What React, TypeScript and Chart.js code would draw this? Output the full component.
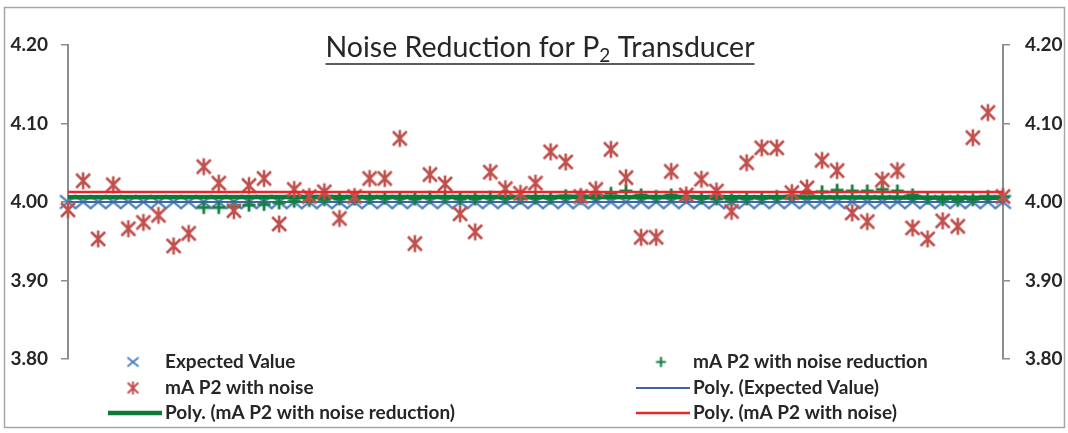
import React, { useEffect, useRef } from 'react';
import { Chart, registerables } from 'chart.js';

Chart.register(...registerables);

const samples = [1, 2, 3, 4, 5, 6, 7, 8, 9, 10, 11, 12, 13, 14, 15, 16, 17, 18, 19, 20, 21, 22, 23, 24, 25, 26, 27, 28, 29, 30, 31, 32, 33, 34, 35, 36, 37, 38, 39, 40, 41, 42, 43, 44, 45, 46, 47, 48, 49, 50, 51, 52, 53, 54, 55, 56, 57, 58, 59, 60, 61, 62, 63];

const expectedValue = [4.0, 4.0, 4.0, 4.0, 4.0, 4.0, 4.0, 4.0, 4.0, 4.0, 4.0, 4.0, 4.0, 4.0, 4.0, 4.0, 4.0, 4.0, 4.0, 4.0, 4.0, 4.0, 4.0, 4.0, 4.0, 4.0, 4.0, 4.0, 4.0, 4.0, 4.0, 4.0, 4.0, 4.0, 4.0, 4.0, 4.0, 4.0, 4.0, 4.0, 4.0, 4.0, 4.0, 4.0, 4.0, 4.0, 4.0, 4.0, 4.0, 4.0, 4.0, 4.0, 4.0, 4.0, 4.0, 4.0, 4.0, 4.0, 4.0, 4.0, 4.0, 4.0, 4.0];

const withNoise = [3.990, 4.027, 3.953, 4.022, 3.966, 3.974, 3.983, 3.944, 3.960, 4.045,
  4.024, 3.989, 4.021, 4.030, 3.972, 4.016, 4.007, 4.013, 3.979, 4.007,
  4.030, 4.030, 4.081, 3.947, 4.035, 4.023, 3.985, 3.962, 4.038, 4.017,
  4.011, 4.024, 4.064, 4.051, 4.007, 4.016, 4.067, 4.031, 3.955, 3.955,
  4.039, 4.009, 4.029, 4.014, 3.988, 4.050, 4.069, 4.069, 4.012, 4.018,
  4.053, 4.040, 3.986, 3.975, 4.028, 4.040, 3.967, 3.953, 3.976, 3.969,
  4.082, 4.114, 4.007];

const withNoiseReduction = [null, null, null, null, null, null, null, null, null, 3.993,
  3.993, 3.994, 3.996, 3.997, 3.999, 4.001, 4.002, 4.003, 4.004, 4.004,
  4.005, 4.005, 4.005, 4.004, 4.006, 4.006, 4.004, 4.004, 4.006, 4.005,
  4.005, 4.005, 4.005, 4.008, 4.008, 4.009, 4.011, 4.014, 4.009, 4.007,
  4.009, 4.007, 4.005, 4.004, 4.003, 4.004, 4.005, 4.007, 4.008, 4.011,
  4.013, 4.015, 4.014, 4.014, 4.016, 4.014, 4.009, 4.005, 4.003, 4.002,
  4.003, 4.007, 4.007];

const trendSamples = [1, 32, 63];
const trendExpected = [4.0, 4.0, 4.0];
const trendReduction = [4.0062, 4.0065, 4.0055];
const trendNoise = [4.0127, 4.0127, 4.0127];

const yTicks = [3.8, 3.9, 4.0, 4.1, 4.2];

const seriesNames = [
  'Expected Value',
  'mA P2 with noise reduction',
  'mA P2 with noise',
  'Poly. (Expected Value)',
  'Poly. (mA P2 with noise reduction)',
  'Poly. (mA P2 with noise)',
];

const BLUE = '#4A7EBB';
const RED = '#C0504D';
const GREEN = '#12803F';
const BLUE_LINE = '#3F66A3';
const RED_LINE = '#E8262B';
const GREEN_LINE = '#0B7A36';
const AXIS = '#8C8C8C';
const TEXT = '#262626';
const FAMILY = 'Lato, "Liberation Sans", sans-serif';

function makeMarker(kind: string, half: number, color: string, lw: number) {
  const size = Math.ceil(half * 2 + lw + 2);
  const c = document.createElement('canvas');
  c.width = size;
  c.height = size;
  const ctx = c.getContext('2d')!;
  const m = size / 2;
  ctx.strokeStyle = color;
  ctx.lineWidth = lw;
  ctx.lineCap = 'butt';
  ctx.beginPath();
  if (kind === 'x') {
    const hw = half, hh = half * 0.82;
    ctx.moveTo(m - hw, m - hh); ctx.lineTo(m + hw, m + hh);
    ctx.moveTo(m - hw, m + hh); ctx.lineTo(m + hw, m - hh);
  } else if (kind === 'star') {
    const d = half * 0.82;
    ctx.moveTo(m - d, m - d); ctx.lineTo(m + d, m + d);
    ctx.moveTo(m - d, m + d); ctx.lineTo(m + d, m - d);
    ctx.moveTo(m, m - half); ctx.lineTo(m, m + half);
  } else {
    ctx.moveTo(m - half, m); ctx.lineTo(m + half, m);
    ctx.moveTo(m, m - half); ctx.lineTo(m, m + half);
  }
  ctx.stroke();
  return c;
}

function pts(xs: number[], ys: (number | null)[]) {
  return xs.map((x, i) => ({ x, y: ys[i] }));
}

export default function App() {
  const ref = useRef<HTMLCanvasElement | null>(null);

  useEffect(() => {
    document.body.style.margin = '0';
    const canvas = ref.current;
    if (!canvas) return;

    const xMark = makeMarker('x', 8, BLUE, 2.2);
    const starMark = makeMarker('star', 8.5, RED, 2.6);
    const plusMark = makeMarker('plus', 6.5, GREEN, 2.8);
    const xMarkS = makeMarker('x', 5.5, BLUE, 1.8);
    const starMarkS = makeMarker('star', 6.5, RED, 2);
    const plusMarkS = makeMarker('plus', 5, GREEN, 2.2);

    const bgPlugin = {
      id: 'bg',
      beforeDraw(chart: any) {
        const { ctx } = chart;
        ctx.save();
        ctx.fillStyle = '#ffffff';
        ctx.fillRect(0, 0, chart.width, chart.height);
        ctx.strokeStyle = '#A6A6A6';
        ctx.lineWidth = 1.5;
        ctx.strokeRect(4.5, 7.5, 1060, 420);
        ctx.restore();
      },
    };

    const titlePlugin = {
      id: 'titleSub',
      afterDraw(chart: any) {
        const { ctx } = chart;
        ctx.save();
        const t1 = 'Noise Reduction for P';
        const sub = '2';
        const t2 = ' Transducer';
        const fs = 28.5;
        const subFs = 19;
        ctx.font = `${fs}px ${FAMILY}`;
        const w1 = ctx.measureText(t1).width;
        const w2 = ctx.measureText(t2).width;
        ctx.font = `${subFs}px ${FAMILY}`;
        const ws = ctx.measureText(sub).width;
        const total = w1 + ws + w2;
        const x0 = 540 - total / 2;
        const base = 57;
        ctx.fillStyle = TEXT;
        ctx.textBaseline = 'alphabetic';
        ctx.textAlign = 'left';
        ctx.font = `${fs}px ${FAMILY}`;
        ctx.fillText(t1, x0, base);
        ctx.fillText(t2, x0 + w1 + ws, base);
        ctx.font = `${subFs}px ${FAMILY}`;
        ctx.fillText(sub, x0 + w1, base + 5);
        ctx.strokeStyle = TEXT;
        ctx.lineWidth = 1.5;
        ctx.beginPath();
        ctx.moveTo(x0, base + 7);
        ctx.lineTo(x0 + total, base + 7);
        ctx.stroke();
        ctx.restore();
      },
    };

    const legendPlugin = {
      id: 'customLegend',
      afterDraw(chart: any) {
        const { ctx } = chart;
        ctx.save();
        ctx.font = `bold 19px ${FAMILY}`;
        ctx.fillStyle = TEXT;
        ctx.textBaseline = 'middle';
        ctx.textAlign = 'left';
        const rows = [362, 388, 413];
        const col1Text = 165, col2Text = 693;
        const drawImg = (img: HTMLCanvasElement, cx: number, cy: number) => {
          ctx.drawImage(img, cx - img.width / 2, cy - img.height / 2);
        };
        const drawLine = (x1: number, x2: number, y: number, color: string, w: number) => {
          ctx.strokeStyle = color;
          ctx.lineWidth = w;
          ctx.beginPath();
          ctx.moveTo(x1, y);
          ctx.lineTo(x2, y);
          ctx.stroke();
        };
        drawImg(xMarkS, 133, rows[0]);
        ctx.fillText(seriesNames[0], col1Text, rows[0]);
        drawImg(plusMarkS, 661, rows[0]);
        ctx.fillText(seriesNames[1], col2Text, rows[0]);
        drawImg(starMarkS, 133, rows[1]);
        ctx.fillText(seriesNames[2], col1Text, rows[1]);
        drawLine(636, 690, rows[1], BLUE_LINE, 2);
        ctx.fillText(seriesNames[3], col2Text, rows[1]);
        drawLine(108, 162, rows[2], GREEN_LINE, 4.5);
        ctx.fillText(seriesNames[4], col1Text, rows[2]);
        drawLine(636, 690, rows[2], RED_LINE, 2.5);
        ctx.fillText(seriesNames[5], col2Text, rows[2]);
        ctx.restore();
      },
    };

    const yAxis = (position: 'left' | 'right', width: number) => ({
      type: 'linear' as const,
      position,
      min: 3.8,
      max: 4.2,
      afterBuildTicks: (s: any) => {
        s.ticks = yTicks.map((v) => ({ value: v }));
      },
      afterFit: (s: any) => {
        s.width = width;
      },
      ticks: {
        callback: (v: any) => Number(v).toFixed(2),
        font: { family: FAMILY, weight: 'bold' as const, size: 19 },
        color: TEXT,
        padding: position === 'left' ? 13 : 15,
      },
      grid: {
        drawOnChartArea: false,
        drawTicks: true,
        tickLength: 7,
        color: AXIS,
        lineWidth: 1.5,
      },
      border: { color: AXIS, width: 2 },
    });

    const chart = new Chart(canvas, {
      type: 'scatter',
      data: {
        datasets: [
          {
            label: seriesNames[5],
            data: pts(trendSamples, trendNoise),
            showLine: true,
            borderColor: RED_LINE,
            borderWidth: 2.5,
            pointRadius: 0,
            tension: 0.4,
            order: 1,
            clip: false,
          },
          {
            label: seriesNames[2],
            data: pts(samples, withNoise),
            pointStyle: starMark,
            showLine: false,
            order: 2,
            clip: false,
          },
          {
            label: seriesNames[4],
            data: pts(trendSamples, trendReduction),
            showLine: true,
            borderColor: GREEN_LINE,
            borderWidth: 4.5,
            pointRadius: 0,
            tension: 0.4,
            order: 3,
            clip: false,
          },
          {
            label: seriesNames[1],
            data: pts(samples, withNoiseReduction),
            pointStyle: plusMark,
            showLine: false,
            order: 4,
            clip: false,
          },
          {
            label: seriesNames[3],
            data: pts(trendSamples, trendExpected),
            showLine: true,
            borderColor: BLUE_LINE,
            borderWidth: 1.8,
            pointRadius: 0,
            order: 5,
            clip: false,
          },
          {
            label: seriesNames[0],
            data: pts(samples, expectedValue),
            pointStyle: xMark,
            showLine: false,
            order: 6,
            clip: false,
          },
        ] as any,
      },
      options: {
        animation: false,
        responsive: false,
        layout: { padding: { top: 45, bottom: 74, left: 0, right: 0 } },
        plugins: {
          legend: { display: false },
          title: { display: false },
          tooltip: { enabled: false },
        },
        scales: {
          x: { type: 'linear', min: 1, max: 63, display: false },
          y: yAxis('left', 68),
          y2: yAxis('right', 65),
        },
      } as any,
      plugins: [bgPlugin, titlePlugin, legendPlugin],
    });

    return () => chart.destroy();
  }, []);

  return (
    <div style={{ width: 1068, height: 433 }}>
      <canvas ref={ref} width={1068} height={433} style={{ display: 'block' }} />
    </div>
  );
}
